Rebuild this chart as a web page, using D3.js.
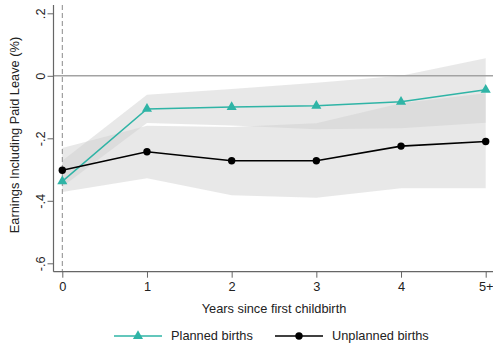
<!DOCTYPE html>
<html><head><meta charset="utf-8">
<script src="https://cdn.jsdelivr.net/npm/d3@7"></script>
<style>body{margin:0;background:#fff}svg{display:block;font-family:"Liberation Sans",Arial,sans-serif}</style>
</head><body><svg id="c" width="493" height="347"></svg>
<script>
const years = [0,1,2,3,4,5];
const yearLabels = ["0","1","2","3","4","5+"];
const plannedVals = [-0.338,-0.106,-0.100,-0.096,-0.083,-0.045];
const plannedLo = [-0.355,-0.151,-0.159,-0.171,-0.168,-0.150];
const plannedHi = [-0.272,-0.061,-0.042,-0.022,0.000,0.056];
const unplannedVals = [-0.302,-0.243,-0.272,-0.272,-0.225,-0.210];
const unplannedLo = [-0.372,-0.328,-0.382,-0.390,-0.360,-0.360];
const unplannedHi = [-0.231,-0.160,-0.164,-0.152,-0.088,-0.056];
const yTicks = [0.2,0,-0.2,-0.4,-0.6];
const yTickLabels = [".2","0","-.2","-.4","-.6"];

const svg = d3.select("#c");
const x = d3.scaleLinear().domain([0,5]).range([62.3,485.7]);
const y = d3.scaleLinear().domain([0.2,-0.6]).range([13.3,263.3]);
const axLeft = 53.5, axBottom = 271.7;
const teal = "#2fb4a6";
const fs = 12.8;

function band(lo, hi){
  return d3.area().x((d,i)=>x(years[i])).y0((d,i)=>y(lo[i])).y1((d,i)=>y(hi[i]))(years);
}
svg.append("path").attr("d", band(plannedLo, plannedHi)).attr("fill","#cfcfcf").attr("fill-opacity",0.48);
svg.append("path").attr("d", band(unplannedLo, unplannedHi)).attr("fill","#cfcfcf").attr("fill-opacity",0.48);

// zero line
svg.append("line").attr("x1",axLeft).attr("x2",493).attr("y1",y(0)).attr("y2",y(0))
  .attr("stroke","#a3a3a3").attr("stroke-width",1.5);
// dashed line
svg.append("line").attr("x1",x(0)).attr("x2",x(0)).attr("y1",5).attr("y2",axBottom)
  .attr("stroke","#8a8a8a").attr("stroke-width",1).attr("stroke-dasharray","5,3");

// axes
const yAxis = d3.axisLeft(y).tickValues(yTicks).tickFormat((d,i)=>yTickLabels[i]).tickSize(6).tickPadding(4);
const gy = svg.append("g").attr("transform",`translate(${axLeft},0)`).call(yAxis);
gy.select(".domain").remove();
gy.append("line").attr("x1",0).attr("x2",0).attr("y1",5).attr("y2",axBottom).attr("stroke","#666").attr("stroke-width",1.2);
gy.selectAll(".tick line").attr("stroke","#666");
gy.selectAll(".tick text").attr("x",-13).attr("y",0).attr("dy","0.35em")
  .attr("text-anchor","middle").attr("font-size",fs).attr("fill","#222")
  .attr("transform","rotate(-90,-13,0)");

const xAxis = d3.axisBottom(x).tickValues(years).tickFormat((d,i)=>yearLabels[i]).tickSize(6).tickPadding(4);
const gx = svg.append("g").attr("transform",`translate(0,${axBottom})`).call(xAxis);
gx.select(".domain").remove();
gx.append("line").attr("x1",axLeft).attr("x2",493).attr("y1",0).attr("y2",0).attr("stroke","#666").attr("stroke-width",1.2);
gx.selectAll(".tick line").attr("stroke","#666");
gx.selectAll(".tick text").attr("font-size",fs).attr("fill","#222");

// titles
svg.append("text").attr("transform","translate(19,135) rotate(-90)").attr("text-anchor","middle")
  .attr("font-size",fs).attr("fill","#222").text("Earnings Including Paid Leave (%)");
svg.append("text").attr("x",274).attr("y",313).attr("text-anchor","middle")
  .attr("font-size",fs).attr("fill","#222").text("Years since first childbirth");

// lines
const line = d3.line().x((d,i)=>x(years[i])).y(d=>y(d));
svg.append("path").attr("d",line(plannedVals)).attr("fill","none").attr("stroke",teal).attr("stroke-width",1.5);
svg.append("path").attr("d",line(unplannedVals)).attr("fill","none").attr("stroke","#000").attr("stroke-width",1.6);
const tri = d3.symbol().type(d3.symbolTriangle).size(44);
svg.selectAll(".tri").data(plannedVals).enter().append("path")
  .attr("d",tri).attr("transform",(d,i)=>`translate(${x(years[i])},${y(d)})`).attr("fill",teal);
svg.selectAll(".dot").data(unplannedVals).enter().append("circle")
  .attr("cx",(d,i)=>x(years[i])).attr("cy",d=>y(d)).attr("r",3.7).attr("fill","#000");

// legend
const ly = 336;
svg.append("line").attr("x1",114).attr("x2",162).attr("y1",ly).attr("y2",ly).attr("stroke",teal).attr("stroke-width",1.5);
svg.append("path").attr("d",tri).attr("transform",`translate(138,${ly})`).attr("fill",teal);
svg.append("text").attr("x",171).attr("y",ly).attr("dy","0.35em").attr("font-size",fs).attr("fill","#222").text("Planned births");
svg.append("line").attr("x1",275).attr("x2",323).attr("y1",ly).attr("y2",ly).attr("stroke","#000").attr("stroke-width",1.6);
svg.append("circle").attr("cx",299).attr("cy",ly).attr("r",3.7).attr("fill","#000");
svg.append("text").attr("x",332).attr("y",ly).attr("dy","0.35em").attr("font-size",fs).attr("fill","#222").text("Unplanned births");
</script></body></html>
